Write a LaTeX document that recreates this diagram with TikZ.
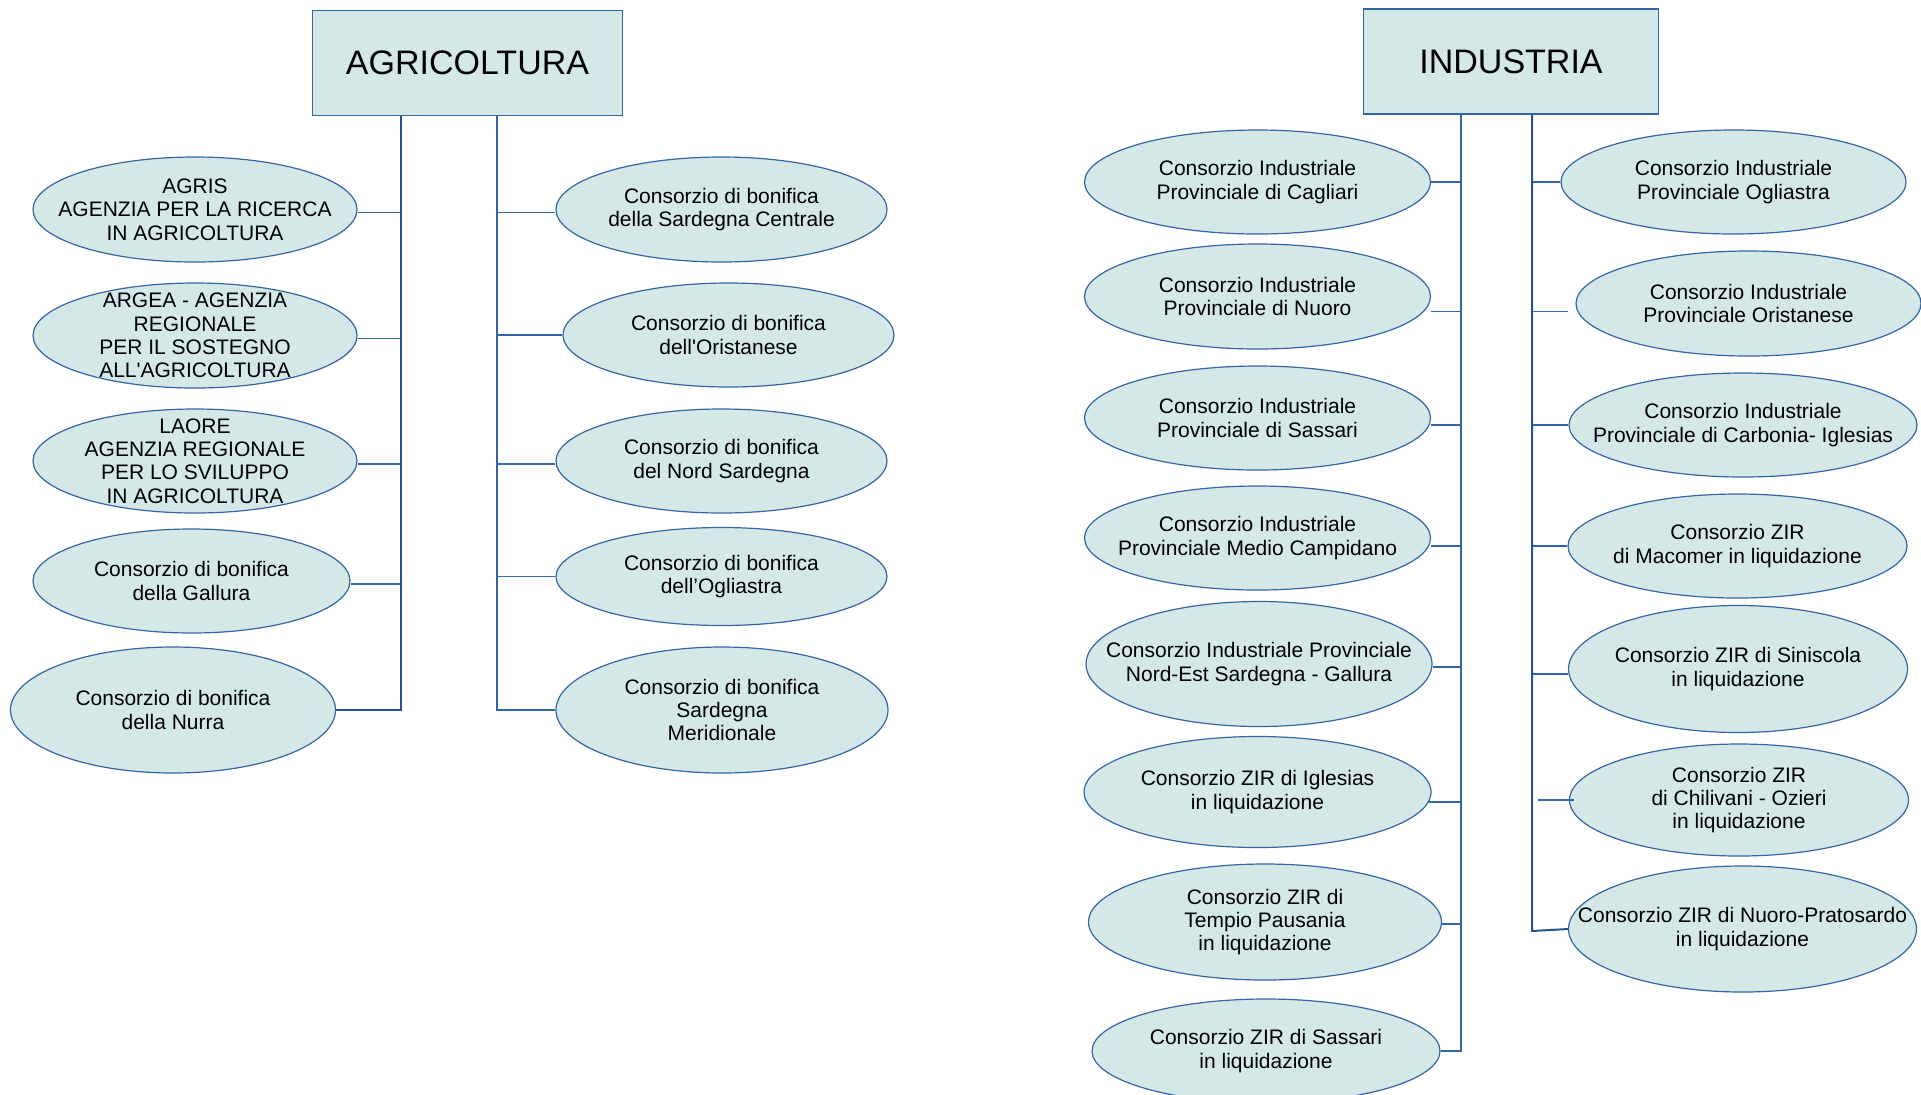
\documentclass[tikz,border=0pt]{standalone}
\usepackage{fontspec}
\setmainfont{Liberation Sans}
\usetikzlibrary{shapes.geometric}
\definecolor{paleteal}{RGB}{213,232,232}
\definecolor{edgeblue}{RGB}{52,101,164}
\definecolor{trunkblue}{RGB}{38,82,148}
\begin{document}
\begin{tikzpicture}
	[	x=0.5pt,y=-0.5pt,
	box/.style={rectangle,draw=edgeblue,fill=paleteal,line width=0.6pt,inner sep=0pt,font=\fontsize{17}{20}\selectfont},
	ente/.style={ellipse,draw=edgeblue,fill=paleteal,line width=0.6pt,inner sep=0pt},
	txt/.style={align=center,inner sep=0pt,font=\fontsize{10.5}{11.65}\selectfont},
	branch/.style={draw=edgeblue,line width=0.9pt},
	trunk/.style={draw=trunkblue,line width=1pt},
	]
	\useasboundingbox (0,0) rectangle (1921,1094);

	% AGRICOLTURA
	\node[box,minimum width=154.8pt,minimum height=52.5pt,name=agri] at (467.5,62.75){AGRICOLTURA};
	\node[ente,minimum width=162pt,minimum height=52.5pt,name=agris,label={[txt]center:AGRIS\\AGENZIA PER LA RICERCA\\IN AGRICOLTURA}] at (195,209.5){};
	\node[ente,minimum width=162pt,minimum height=52.5pt,name=argea,label={[txt]center:ARGEA - AGENZIA\\REGIONALE\\PER IL SOSTEGNO\\ALL\textquotesingle AGRICOLTURA}] at (195,335.5){};
	\node[ente,minimum width=162pt,minimum height=52pt,name=laore,label={[txt]center:LAORE\\AGENZIA REGIONALE\\PER LO SVILUPPO\\IN AGRICOLTURA}] at (195,461){};
	\node[ente,minimum width=158.5pt,minimum height=52pt,name=gallura,label={[txt]center:Consorzio di bonifica\\della Gallura}] at (191.5,581){};
	\node[ente,minimum width=162.5pt,minimum height=63pt,name=nurra,label={[txt]center:Consorzio di bonifica\\della Nurra}] at (173,710){};
	\node[ente,minimum width=165.5pt,minimum height=52.5pt,name=centrale,label={[txt]center:Consorzio di bonifica\\della Sardegna Centrale}] at (721.5,209.5){};
	\node[ente,minimum width=165.5pt,minimum height=52pt,name=oristanese,label={[txt]center:Consorzio di bonifica\\dell\textquotesingle Oristanese}] at (728.5,335){};
	\node[ente,minimum width=165.5pt,minimum height=52pt,name=nord,label={[txt]center:Consorzio di bonifica\\del Nord Sardegna}] at (721.5,461){};
	\node[ente,minimum width=165.5pt,minimum height=49pt,name=ogliastra,label={[txt]center:Consorzio di bonifica\\dell’Ogliastra}] at (721.5,576.5){};
	\node[ente,minimum width=166pt,minimum height=63pt,name=meridionale,label={[txt]center:Consorzio di bonifica\\Sardegna\\Meridionale}] at (722,710){};

	\coordinate (tl) at (401,710);
	\coordinate (tr) at (497,710);
	\draw[branch] ([yshift=-1.5pt]agris.east) -| (tl);
	\draw[branch] ([yshift=-1.5pt]argea.east) -| (tl);
	\draw[branch] ([yshift=-1.5pt]laore.east) -| (tl);
	\draw[branch] ([yshift=-1.5pt]gallura.east) -| (tl);
	\draw[branch] ([yshift=-1.5pt]centrale.west) -| (tr);
	\draw[branch] (oristanese.west) -| (tr);
	\draw[branch] ([yshift=-1.5pt]nord.west) -| (tr);
	\draw[branch] (ogliastra.west) -| (tr);
	\draw[trunk] (agri.south -| tl) -- (tl) -- (nurra.east);
	\draw[branch] (agri.south -| tr) -- (tr) -- (meridionale.west);

	% INDUSTRIA
	\node[box,minimum width=147.5pt,minimum height=52.5pt,name=ind] at (1511,61.5){INDUSTRIA};
	\node[ente,minimum width=173pt,minimum height=52pt,name=cagliari,label={[txt]center:Consorzio Industriale\\Provinciale di Cagliari}] at (1257.5,182){};
	\node[ente,minimum width=173pt,minimum height=52.5pt,name=nuoro,label={[txt]center:Consorzio Industriale\\Provinciale di Nuoro}] at (1257.5,296.5){};
	\node[ente,minimum width=173pt,minimum height=52pt,name=sassari,label={[txt]center:Consorzio Industriale\\Provinciale di Sassari}] at (1257.5,418){};
	\node[ente,minimum width=173pt,minimum height=52pt,name=medio,label={[txt]center:Consorzio Industriale\\Provinciale Medio Campidano}] at (1257.5,538){};
	\node[ente,minimum width=173pt,minimum height=62.5pt,name=nordest,label={[txt]center:Consorzio Industriale Provinciale\\Nord-Est Sardegna - Gallura}] at (1259,664){};
	\node[ente,minimum width=173.5pt,minimum height=55.5pt,name=iglesias,label={[txt]center:Consorzio ZIR di Iglesias\\in liquidazione}] at (1257.5,792){};
	\node[ente,minimum width=176.5pt,minimum height=58pt,name=tempio,label={[txt]center:Consorzio ZIR di\\Tempio Pausania\\in liquidazione}] at (1265,922){};
	\node[ente,minimum width=174pt,minimum height=52pt,name=zirsassari,label={[txt]center:Consorzio ZIR di Sassari\\in liquidazione}] at (1266,1051){};
	\node[ente,minimum width=172.5pt,minimum height=52pt,name=ogliastrai,label={[txt]center:Consorzio Industriale\\Provinciale Ogliastra}] at (1733.5,182){};
	\node[ente,minimum width=172.5pt,minimum height=52.5pt,name=oristanesei,label={[txt]center:Consorzio Industriale\\Provinciale Oristanese}] at (1748.5,303.5){};
	\node[ente,minimum width=174pt,minimum height=52pt,name=carbonia,label={[txt]center:Consorzio Industriale\\Provinciale di Carbonia- Iglesias}] at (1743,425){};
	\node[ente,minimum width=169.5pt,minimum height=52pt,name=macomer,label={[txt]center:Consorzio ZIR\\di Macomer in liquidazione}] at (1737.5,546){};
	\node[ente,minimum width=169.5pt,minimum height=63.5pt,name=siniscola,label={[txt]center:Consorzio ZIR di Siniscola\\in liquidazione}] at (1738,669){};
	\node[ente,minimum width=169.5pt,minimum height=56pt,name=chilivani,label={[txt]center:Consorzio ZIR\\di Chilivani - Ozieri\\in liquidazione}] at (1739,800){};
	\node[ente,minimum width=174pt,minimum height=63pt,name=pratosardo,label={[txt]center:Consorzio ZIR di Nuoro-Pratosardo\\in liquidazione}] at (1742.5,929){};

	\coordinate (til) at (1461,1052);
	\coordinate (tir) at (1532,931);
	\draw[branch] (cagliari.east) -| (til);
	\draw[branch] ([yshift=-7.5pt]nuoro.east) -| (til);
	\draw[branch] ([yshift=-3.5pt]sassari.east) -| (til);
	\draw[branch] ([yshift=-4pt]medio.east) -| (til);
	\draw[branch] ([yshift=-1.5pt]nordest.east) -| (til);
	\draw[branch] ([yshift=-5pt,xshift=-2pt]iglesias.east) -| (til);
	\draw[branch] ([yshift=-1pt]tempio.east) -| (til);
	\draw[branch] (zirsassari.east) -| (til);
	\draw[branch] (ogliastrai.west) -| (tir);
	\draw[branch] ([yshift=-4pt,xshift=-3.5pt]oristanesei.west) -| (tir);
	\draw[branch] (carbonia.west) -| (tir);
	\draw[branch] (macomer.west) -| (tir);
	\draw[branch] ([yshift=-2.5pt]siniscola.west) -| (tir);
	\draw[branch,shorten <=-2.5pt,shorten >=3pt] (chilivani.west) -- (chilivani.west -| tir);
	\draw[branch] (ind.south -| til) -- (til);
	\draw[trunk] (ind.south -| tir) -- (tir) -- (pratosardo.west);
\end{tikzpicture}
\end{document}
